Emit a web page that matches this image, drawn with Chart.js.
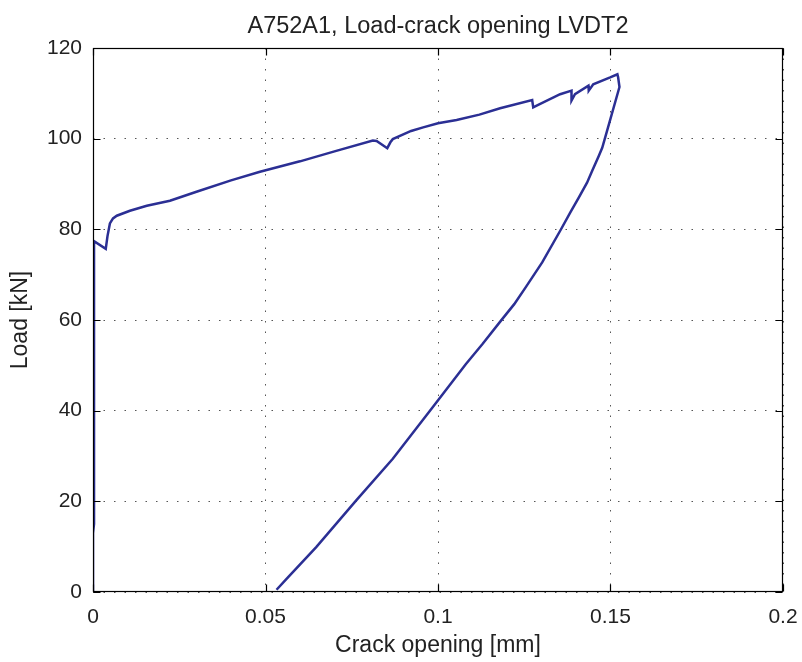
<!DOCTYPE html>
<html>
<head>
<meta charset="utf-8">
<script src="https://cdn.jsdelivr.net/npm/chart.js@4.4.1/dist/chart.umd.min.js"></script>
<style>
  body { margin: 0; background: #fff; }
  #wrap { width: 802px; height: 662px; }
</style>
</head>
<body>
<div id="wrap"><canvas id="chart1" width="802" height="662"></canvas></div>
<script>
// crack opening [mm] and load [kN] (loading then unloading)
const opening = [
  0, 0, 0.0003, 0.0003, 0.0037, 0.0042, 0.0049, 0.0058, 0.0069, 0.0107, 0.0156,
  0.0223, 0.030, 0.040, 0.0484, 0.060, 0.070, 0.0811, 0.0822, 0.0853, 0.0862,
  0.0869, 0.0922, 0.0957, 0.100, 0.1054, 0.112, 0.118, 0.1273, 0.1276, 0.1286,
  0.1354, 0.1387, 0.1387, 0.1397, 0.1436, 0.1437, 0.145, 0.1499, 0.1520, 0.1522,
  0.1526, 0.1490, 0.1476, 0.1466, 0.1447, 0.1432, 0.1408, 0.1384, 0.1355, 0.1302,
  0.1254, 0.1221, 0.1182, 0.1129, 0.1081, 0.0984, 0.0869, 0.0763, 0.0647, 0.0561,
  0.0532
];
const load = [
  0, 13, 15, 77.4, 75.7, 78.5, 81.3, 82.4, 83.0, 84.1, 85.2,
  86.3, 88.3, 90.8, 92.7, 95.0, 97.2, 99.6, 99.5, 97.9, 99.2,
  99.9, 101.7, 102.5, 103.4, 104.1, 105.3, 106.7, 108.5, 106.9, 107.3,
  109.8, 110.6, 108.4, 109.8, 111.7, 110.6, 112.0, 113.5, 114.2, 113.6,
  111.4, 101.7, 98.0, 96.2, 92.9, 90.3, 87.0, 83.8, 79.8, 72.7,
  67.2, 63.5, 59.8, 54.7, 50.3, 40.7, 29.4, 20.2, 9.9, 2.9,
  0.5
];
const xTicks = [0, 0.05, 0.1, 0.15, 0.2];
const xTickLabels = ['0', '0.05', '0.1', '0.15', '0.2'];
const yTicks = [0, 20, 40, 60, 80, 100, 120];

const fam = "'Liberation Sans', Arial, Helvetica, sans-serif";

// MATLAB style box with inward tick marks
const boxPlugin = {
  id: 'box',
  afterDraw(chart) {
    const { ctx, chartArea: a, scales: { x, y } } = chart;
    const l = Math.round(a.left) + 0.5, r = Math.round(a.right) - 0.5;
    const t = Math.round(a.top) + 0.5, b = Math.round(a.bottom) - 0.5;
    ctx.save();
    ctx.strokeStyle = '#000';
    ctx.lineWidth = 1.2;
    ctx.strokeRect(l, t, r - l, b - t);
    ctx.beginPath();
    x.ticks.forEach(tk => {
      const p = Math.round(x.getPixelForValue(tk.value)) + 0.5;
      ctx.moveTo(p, b); ctx.lineTo(p, b - 7);
      ctx.moveTo(p, t); ctx.lineTo(p, t + 7);
    });
    y.ticks.forEach(tk => {
      const p = Math.round(y.getPixelForValue(tk.value)) + 0.5;
      ctx.moveTo(l, p); ctx.lineTo(l + 7, p);
      ctx.moveTo(r, p); ctx.lineTo(r - 7, p);
    });
    ctx.stroke();
    ctx.restore();
  }
};

const ctx1 = document.getElementById('chart1').getContext('2d');
const myChart1 = new Chart(ctx1, {
  type: 'scatter',
  data: {
    datasets: [{
      label: 'LVDT2',
      data: opening.map((v, i) => ({ x: v, y: load[i] })),
      showLine: true,
      borderColor: '#2b2f94',
      backgroundColor: '#2b2f94',
      borderWidth: 2.5,
      pointRadius: 0,
      tension: 0
    }]
  },
  options: {
    responsive: false,
    animation: false,
    layout: { padding: { left: 0, right: 19, top: 0, bottom: 0 } },
    plugins: {
      legend: { display: false },
      tooltip: { enabled: false },
      title: {
        display: true,
        fullSize: false,
        text: 'A752A1, Load-crack opening LVDT2',
        color: '#222',
        font: { family: fam, size: 23.5, weight: 'normal' },
        padding: { top: 12, bottom: 7.8 }
      }
    },
    scales: {
      x: {
        type: 'linear',
        min: 0,
        max: 0.2,
        afterBuildTicks: s => { s.ticks = xTicks.map(v => ({ value: v })); },
        afterFit: s => { s.height = 70; s.paddingLeft = 0; s.paddingRight = 0; },
        ticks: {
          color: '#222',
          font: { family: fam, size: 21 },
          padding: 13,
          maxRotation: 0,
          callback: (v) => xTickLabels[xTicks.indexOf(v)]
        },
        grid: {
          color: '#555',
          lineWidth: 1,
          drawTicks: false,
          tickLength: 0
        },
        border: { display: false, dash: [1.5, 9] },
        title: {
          display: true,
          text: 'Crack opening [mm]',
          color: '#222',
          font: { family: fam, size: 23 },
          padding: { top: 0, bottom: 3 }
        }
      },
      y: {
        type: 'linear',
        min: 0,
        max: 120,
        afterBuildTicks: s => { s.ticks = yTicks.map(v => ({ value: v })); },
        afterFit: s => { s.width = 93; },
        ticks: {
          color: '#222',
          font: { family: fam, size: 21 },
          padding: 11
        },
        grid: {
          color: '#555',
          lineWidth: 1,
          drawTicks: false,
          tickLength: 0
        },
        border: { display: false, dash: [1.5, 9] },
        title: {
          display: true,
          text: 'Load [kN]',
          color: '#222',
          font: { family: fam, size: 23 },
          padding: { top: 7, bottom: 0 }
        }
      }
    }
  },
  plugins: [boxPlugin]
});
</script>
</body>
</html>
